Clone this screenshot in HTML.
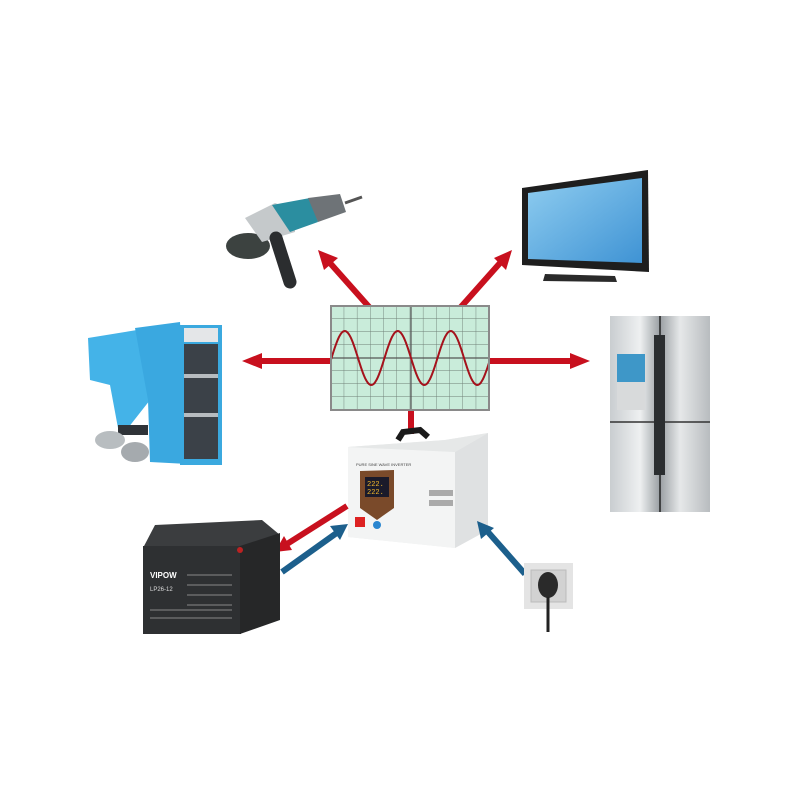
<!DOCTYPE html>
<html><head><style>html,body{margin:0;padding:0;background:#fff}svg{display:block}</style></head><body>
<svg width="800" height="800" viewBox="0 0 800 800" xmlns="http://www.w3.org/2000/svg">
<defs>
<linearGradient id="fr" x1="0" x2="1"><stop offset="0" stop-color="#c9cdd0"/><stop offset="0.3" stop-color="#eef0f1"/><stop offset="0.5" stop-color="#9a9fa3"/><stop offset="0.7" stop-color="#e6e8e9"/><stop offset="1" stop-color="#b8bcbf"/></linearGradient>
<linearGradient id="tv" x1="0" y1="0" x2="1" y2="1"><stop offset="0" stop-color="#8fcdf0"/><stop offset="1" stop-color="#3f93d4"/></linearGradient>
<pattern id="grid" x="331" y="306" width="13.2" height="13" patternUnits="userSpaceOnUse"><path d="M13.2 0V13M0 13H13.2" stroke="#6f7f77" stroke-width="0.9" fill="none"/></pattern>
</defs>
<!-- arrows red -->
<g stroke="#c8101e" stroke-width="6" fill="none">
<line x1="370" y1="308" x2="330" y2="263"/>
<line x1="460" y1="308" x2="500" y2="263"/>
<line x1="331" y1="361" x2="258" y2="361"/>
<line x1="489" y1="361" x2="575" y2="361"/>
<line x1="411" y1="408" x2="411" y2="434"/>
</g>
<g fill="#c8101e">
<polygon points="318,250 338,258 324,270"/>
<polygon points="512,250 494,258 506,270"/>
<polygon points="242,361 262,353 262,369"/>
<polygon points="590,361 570,353 570,369"/>
</g>
<!-- oscilloscope -->
<rect x="331" y="306" width="158" height="104" fill="#c9ecda"/>
<rect x="331" y="306" width="158" height="104" fill="url(#grid)"/>
<line x1="411" y1="306" x2="411" y2="410" stroke="#555" stroke-width="1.2"/>
<line x1="331" y1="358" x2="489" y2="358" stroke="#555" stroke-width="1.2"/>
<path id="sine" d="" fill="none" stroke="#a5121c" stroke-width="2"/>
<rect x="331" y="306" width="158" height="104" fill="none" stroke="#8a8a8a" stroke-width="2"/>
<!-- grinder -->
<ellipse cx="248" cy="246" rx="22" ry="13" fill="#3c4240"/>
<path d="M245 218 L275 203 L295 210 L295 232 L262 242 Z" fill="#c5c9cb"/>
<path d="M272 205 L310 198 L318 222 L290 232 Z" fill="#2b8ea0"/>
<path d="M308 198 L340 194 L346 212 L318 222 Z" fill="#6e7377"/>
<path d="M345 203 L362 197" stroke="#555" stroke-width="3"/>
<path d="M276 238 L290 282" stroke="#2b2d2f" stroke-width="13" stroke-linecap="round"/>
<!-- boiler -->
<path d="M88 338 L137 330 L150 400 L128 428 L118 428 L110 385 L90 380 Z" fill="#44b3e8"/>
<path d="M135 328 L180 322 L188 464 L150 462 L148 400 Z" fill="#3aa8e0"/>
<rect x="180" y="325" width="42" height="140" fill="#3ba9df"/>
<rect x="184" y="344" width="34" height="115" fill="#3b4148"/>
<rect x="184" y="374" width="34" height="4" fill="#b7bcc0"/>
<rect x="184" y="413" width="34" height="4" fill="#b7bcc0"/>
<rect x="184" y="328" width="34" height="14" fill="#e4e6e8"/>
<rect x="118" y="425" width="30" height="10" fill="#2f3338"/>
<ellipse cx="110" cy="440" rx="15" ry="9" fill="#b8bdc0"/>
<ellipse cx="135" cy="452" rx="14" ry="10" fill="#a5aaae"/>
<!-- tv -->
<polygon points="522,188 648,170 649,272 522,265" fill="#1e1e1e"/>
<polygon points="528,193 642,178 642,263 528,259" fill="url(#tv)"/>
<path d="M545 274 L615 276 L617 282 L543 281 Z" fill="#2a2a2a"/>
<!-- fridge -->
<rect x="610" y="316" width="100" height="196" fill="url(#fr)"/>
<line x1="660" y1="316" x2="660" y2="512" stroke="#222" stroke-width="1.5"/>
<line x1="610" y1="422" x2="710" y2="422" stroke="#333" stroke-width="1.5"/>
<rect x="654" y="335" width="11" height="140" fill="#2b2e30"/>
<rect x="617" y="354" width="28" height="28" fill="#3e97c8"/>
<rect x="617" y="382" width="28" height="28" fill="#d8dadb"/>
<!-- inverter -->
<path d="M398 440 L403 432 L420 430 L428 437" stroke="#1a1a1a" stroke-width="6" fill="none"/>
<polygon points="348,447 445,440 488,433 488,530 455,548 348,537" fill="#eceeee"/>
<polygon points="348,447 455,452 455,548 348,537" fill="#f3f4f4"/>
<polygon points="455,452 488,433 488,530 455,548" fill="#dfe1e2"/>
<polygon points="348,447 445,440 488,433 455,452" fill="#e6e8e8"/>
<path d="M360 471 L394 470 L394 508 L377 520 L360 508 Z" fill="#7a4a2a"/>
<rect x="365" y="477" width="24" height="20" fill="#1a1a2a"/>
<text x="367" y="486" font-family="Liberation Mono, monospace" font-size="7" fill="#f1b82b">222.</text>
<text x="367" y="494" font-family="Liberation Mono, monospace" font-size="7" fill="#f1b82b">222.</text>
<rect x="355" y="517" width="10" height="10" fill="#d22"/>
<circle cx="377" cy="525" r="4" fill="#2a86d0"/>
<g fill="#aaa"><rect x="429" y="490" width="24" height="6"/><rect x="429" y="500" width="24" height="6"/></g>
<text x="356" y="466" font-family="Liberation Sans, sans-serif" font-size="4" fill="#444">PURE SINE WAVE INVERTER</text>
<!-- arrows near inverter -->
<line x1="347" y1="506" x2="287" y2="544" stroke="#c8101e" stroke-width="6"/>
<polygon points="275,552 284,536 292,550" fill="#c8101e"/>
<g stroke="#1c5f8c" stroke-width="6" fill="none">
<line x1="282" y1="572" x2="338" y2="532"/>
<line x1="525" y1="574" x2="488" y2="532"/>
</g>
<g fill="#1c5f8c">
<polygon points="348,524 330,526 340,540"/>
<polygon points="477,521 481,539 494,528"/>
</g>
<!-- battery -->
<polygon points="155,525 262,520 280,535 240,548 143,548" fill="#3b3d3f"/>
<rect x="143" y="546" width="98" height="88" fill="#2e3032"/>
<polygon points="240,546 280,533 280,620 240,634" fill="#262728"/>
<circle cx="240" cy="550" r="3" fill="#b22"/>
<text x="150" y="578" font-family="Liberation Sans, sans-serif" font-size="8" font-weight="bold" fill="#fff">VIPOW</text>
<text x="150" y="591" font-family="Liberation Sans, sans-serif" font-size="6" fill="#ddd">LP26-12</text>
<g stroke="#888" stroke-width="1"><line x1="187" y1="575" x2="232" y2="575"/><line x1="187" y1="585" x2="232" y2="585"/><line x1="187" y1="595" x2="232" y2="595"/><line x1="187" y1="605" x2="232" y2="605"/><line x1="150" y1="610" x2="232" y2="610"/><line x1="150" y1="618" x2="232" y2="618"/></g>
<!-- socket -->
<rect x="524" y="563" width="49" height="46" fill="#e4e4e4"/>
<rect x="531" y="570" width="35" height="32" fill="#d2d2d2" stroke="#bbb"/>
<ellipse cx="548" cy="585" rx="10" ry="13" fill="#2a2a2a"/>
<path d="M548 597 L548 632" stroke="#222" stroke-width="3"/>
<script>
var d="";for(var x=331;x<=489;x++){var y=358+27*Math.sin(2*Math.PI*(x-411)/53);d+=(x==331?"M":"L")+x+" "+y.toFixed(1)+" ";}
document.getElementById("sine").setAttribute("d",d);
</script>
</svg>
</body></html>
